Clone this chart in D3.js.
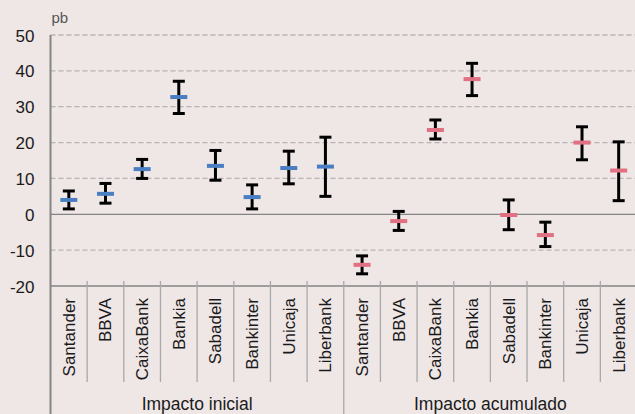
<!DOCTYPE html>
<html>
<head>
<meta charset="utf-8">
<script src="https://cdn.jsdelivr.net/npm/d3@7"></script>
<style>
  html, body { margin: 0; padding: 0; background: #efe6e6; }
  svg { display: block; font-family: "Liberation Sans", Arial, Helvetica, sans-serif; }
</style>
</head>
<body>
<svg id="chart" width="635" height="414"></svg>
<script>
const banks = ["Santander", "BBVA", "CaixaBank", "Bankia", "Sabadell", "Bankinter", "Unicaja", "Liberbank"];
const groups = ["Impacto inicial", "Impacto acumulado"];
const yTicks = [-20, -10, 0, 10, 20, 30, 40, 50];
const unitLabel = "pb";

// Impacto inicial
const inicialValue = [4.0, 5.7, 12.6, 32.7, 13.5, 4.8, 12.9, 13.3];
const inicialHigh  = [6.5, 8.6, 15.3, 37.1, 17.8, 8.2, 17.6, 21.5];
const inicialLow   = [1.5, 3.1, 10.0, 28.1, 9.5, 1.5, 8.5, 5.0];

// Impacto acumulado
const acumValue = [-14.1, -1.9, 23.5, 37.7, -0.2, -5.8, 20.0, 12.2];
const acumHigh  = [-11.6, 0.8, 26.3, 42.1, 4.0, -2.2, 24.4, 20.2];
const acumLow   = [-16.6, -4.5, 21.0, 33.1, -4.3, -9.0, 15.2, 3.8];

const colors = ["#4a7ec2", "#e07082"];

const rows = [];
banks.forEach((b, i) => rows.push({g: 0, bank: b, key: "0-" + b, v: inicialValue[i], hi: inicialHigh[i], lo: inicialLow[i]}));
banks.forEach((b, i) => rows.push({g: 1, bank: b, key: "1-" + b, v: acumValue[i], hi: acumHigh[i], lo: acumLow[i]}));

const svg = d3.select("#chart");
const mLeft = 50.5, mRight = 637, mTop = 35, mBottom = 286;

const x = d3.scaleBand().domain(rows.map(d => d.key)).range([mLeft, mRight]).padding(0);
const y = d3.scaleLinear().domain([-20, 50]).range([mBottom, mTop]);

// gridlines
svg.append("g").selectAll("line")
  .data(yTicks.filter(t => t !== 0 && t !== -20))
  .join("line")
  .attr("x1", mLeft).attr("x2", 635)
  .attr("y1", d => y(d)).attr("y2", d => y(d))
  .attr("stroke", "#b9b4b4").attr("stroke-width", 1.3)
  .attr("stroke-dasharray", "5,3");

// zero line
svg.append("line")
  .attr("x1", mLeft).attr("x2", 635)
  .attr("y1", y(0)).attr("y2", y(0))
  .attr("stroke", "#858585").attr("stroke-width", 1.3);

// y axis labels
const yAxis = d3.axisLeft(y).tickValues(yTicks).tickSize(0).tickPadding(16).tickFormat(d => String(d));
const ya = svg.append("g").attr("transform", `translate(${mLeft},0)`).call(yAxis);
ya.select(".domain").remove();
ya.selectAll("text").attr("font-size", 17).attr("fill", "#1a1a1a").attr("font-family", "Liberation Sans, Arial, sans-serif")
  .attr("dy", "0.36em");

// unit label
svg.append("text").attr("x", 51.5).attr("y", 23).attr("font-size", 15).attr("fill", "#555").text(unitLabel);

// x axis line
svg.append("line").attr("x1", mLeft).attr("x2", 635).attr("y1", mBottom).attr("y2", mBottom)
  .attr("stroke", "#858585").attr("stroke-width", 1.5);

// category separators
const bw = x.bandwidth();
svg.append("g").selectAll("line")
  .data(rows.filter((d, i) => i % 8 !== 0))
  .join("line")
  .attr("x1", d => x(d.key)).attr("x2", d => x(d.key))
  .attr("y1", 281).attr("y2", 382)
  .attr("stroke", "#a9a9a9").attr("stroke-width", 1.3);

// group separators (full height)
svg.append("g").selectAll("line")
  .data(rows.filter((d, i) => i % 8 === 0 && i > 0))
  .join("line")
  .attr("x1", d => x(d.key)).attr("x2", d => x(d.key))
  .attr("y1", 281).attr("y2", 414)
  .attr("stroke", "#a9a9a9").attr("stroke-width", 1.3);

// left axis line
svg.append("line").attr("x1", mLeft).attr("x2", mLeft).attr("y1", mTop).attr("y2", 414)
  .attr("stroke", "#858585").attr("stroke-width", 2);

// category labels
svg.append("g").selectAll("text")
  .data(rows)
  .join("text")
  .attr("transform", d => `translate(${x(d.key) + bw / 2 + 6},298) rotate(-90)`)
  .attr("text-anchor", "end")
  .attr("font-size", 17)
  .attr("fill", "#1a1a1a")
  .text(d => d.bank);

// group labels
groups.forEach((g, gi) => {
  const first = x(gi + "-" + banks[0]);
  const last = x(gi + "-" + banks[banks.length - 1]) + bw;
  svg.append("text")
    .attr("x", (first + last) / 2).attr("y", 410)
    .attr("text-anchor", "middle").attr("font-size", 17.5).attr("fill", "#1a1a1a")
    .text(g);
});

// error bars
const eb = svg.append("g").selectAll("g").data(rows).join("g")
  .attr("transform", d => `translate(${x(d.key) + bw / 2},0)`);
eb.append("line").attr("x1", 0).attr("x2", 0)
  .attr("y1", d => y(d.hi)).attr("y2", d => y(d.lo))
  .attr("stroke", "#000").attr("stroke-width", 3);
eb.append("line").attr("x1", -6).attr("x2", 6)
  .attr("y1", d => y(d.hi)).attr("y2", d => y(d.hi))
  .attr("stroke", "#000").attr("stroke-width", 3);
eb.append("line").attr("x1", -6).attr("x2", 6)
  .attr("y1", d => y(d.lo)).attr("y2", d => y(d.lo))
  .attr("stroke", "#000").attr("stroke-width", 3);
eb.append("rect")
  .attr("x", -8.5).attr("width", 17)
  .attr("y", d => y(d.v) - 2).attr("height", 4)
  .attr("fill", d => colors[d.g]);
</script>
</body>
</html>
